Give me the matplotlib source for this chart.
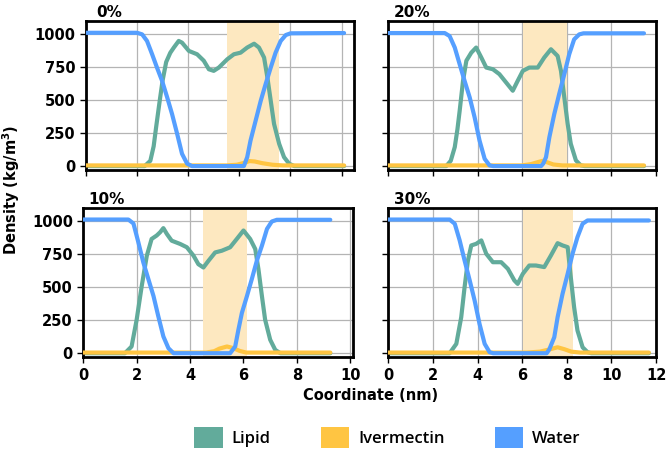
import matplotlib.pyplot as plt
from matplotlib.patches import Patch

# ---- data (x in nm, density in kg/m^3) ----
labels = ["0%", "20%", "10%", "30%"]
shade_0 = (5.5, 7.55)
shade_20 = (6.03, 8.0)
shade_10 = (4.5, 6.15)
shade_30 = (6.03, 8.3)

water0_x = [0, 2.0, 2.2, 2.39, 2.59, 2.78, 2.98, 3.18, 3.37, 3.57, 3.76, 3.96, 4.15,
            6.18, 6.31, 6.44, 6.64, 6.84, 7.03, 7.23, 7.42, 7.62, 7.82, 8.01, 10.1]
water0_y = [1012, 1012, 1000, 950, 849, 748, 647, 521, 395, 244, 93, 18, 0,
            0, 68, 194, 345, 496, 622, 748, 861, 950, 995, 1008, 1010]
lipid0_x = [0, 2.3, 2.52, 2.65, 2.75, 2.89, 3.0, 3.14, 3.3, 3.44, 3.63, 3.76, 4.03, 4.35,
            4.61, 4.81, 5.0, 5.2, 5.53, 5.79, 6.05, 6.31, 6.58, 6.77, 6.97, 7.1, 7.23,
            7.36, 7.56, 7.75, 7.95, 8.15, 10.1]
lipid0_y = [0, 0, 40, 150, 300, 500, 650, 790, 860, 900, 950, 937, 874, 849,
            800, 735, 723, 748, 811, 849, 861, 900, 929, 900, 824, 672, 496,
            320, 169, 68, 18, 0, 0]
iver0_x = [0, 5.5, 5.9, 6.2, 6.4, 6.6, 6.9, 7.3, 7.7, 10.1]
iver0_y = [5, 5, 10, 25, 38, 35, 22, 10, 5, 5]

water20_x = [0, 2.53, 2.75, 2.98, 3.2, 3.42, 3.65, 3.87, 4.09, 4.32, 4.54, 4.7,
             6.85, 6.95, 7.07, 7.22, 7.44, 7.66, 7.89, 8.11, 8.33, 8.56, 8.75, 11.46]
water20_y = [1010, 1010, 987, 900, 773, 647, 521, 370, 194, 55, 5, 0,
             0, 20, 68, 219, 395, 547, 698, 849, 962, 1000, 1008, 1008]
lipid20_x = [0, 2.6, 2.8, 2.98, 3.1, 3.2, 3.35, 3.5, 3.72, 3.94, 4.17, 4.39, 4.69,
             4.98, 5.28, 5.58, 5.8, 6.03, 6.32, 6.7, 6.99, 7.29, 7.59, 7.74, 7.89,
             8.04, 8.18, 8.41, 8.63, 8.8, 11.46]
lipid20_y = [0, 0, 40, 144, 280, 420, 647, 800, 861, 900, 824, 748, 735,
             698, 635, 572, 647, 723, 748, 748, 824, 887, 836, 723, 521,
             320, 169, 43, 5, 0, 0]
iver20_x = [0, 6.0, 6.4, 6.7, 6.92, 7.1, 7.4, 7.8, 11.46]
iver20_y = [5, 5, 15, 30, 40, 30, 12, 5, 5]

water10_x = [0, 1.69, 1.88, 2.06, 2.25, 2.44, 2.63, 2.81, 3.0, 3.19, 3.38,
             5.5, 5.69, 5.81, 5.94, 6.13, 6.31, 6.5, 6.69, 6.88, 7.06, 7.25, 9.25]
water10_y = [1012, 1012, 982, 842, 687, 560, 433, 280, 127, 38, 0,
             0, 51, 178, 305, 433, 560, 700, 814, 941, 997, 1010, 1010]
lipid10_x = [0, 1.56, 1.81, 2.0, 2.19, 2.38, 2.56, 2.75, 2.88, 3.0, 3.13, 3.31, 3.63,
             3.88, 4.13, 4.31, 4.5, 4.69, 4.94, 5.19, 5.5, 5.75, 6.0, 6.25, 6.44,
             6.56, 6.69, 6.81, 7.0, 7.19, 7.38, 9.25]
lipid10_y = [0, 0, 51, 254, 509, 738, 865, 891, 916, 947, 903, 852, 827,
             802, 738, 674, 649, 700, 763, 776, 802, 865, 929, 865, 789,
             636, 433, 254, 102, 25, 0, 0]
iver10_x = [0, 4.6, 4.9, 5.1, 5.38, 5.6, 5.85, 6.1, 9.25]
iver10_y = [5, 5, 15, 35, 51, 40, 18, 5, 5]

water30_x = [0, 2.75, 2.98, 3.2, 3.42, 3.65, 3.87, 4.09, 4.32, 4.54, 4.7,
             7.1, 7.22, 7.44, 7.59, 7.81, 8.04, 8.26, 8.48, 8.71, 8.93, 11.68]
water30_y = [1012, 1012, 980, 854, 702, 551, 399, 222, 71, 8, 0,
             0, 30, 121, 273, 449, 601, 753, 879, 980, 1005, 1005]
lipid30_x = [0, 2.75, 3.05, 3.27, 3.42, 3.57, 3.72, 3.94, 4.17, 4.39, 4.69, 5.06,
             5.36, 5.65, 5.8, 6.03, 6.32, 6.62, 6.99, 7.29, 7.59, 7.81, 8.04, 8.18,
             8.33, 8.48, 8.71, 8.93, 9.1, 11.68]
lipid30_y = [0, 0, 71, 273, 500, 702, 816, 828, 854, 753, 689, 689,
             639, 551, 525, 601, 664, 664, 652, 740, 833, 816, 803, 576,
             348, 172, 45, 8, 0, 0]
iver30_x = [0, 6.2, 6.8, 7.2, 7.59, 7.9, 8.2, 8.6, 11.68]
iver30_y = [5, 5, 12, 28, 45, 30, 12, 5, 5]

# colours
c_lipid = "#62ab9b"
c_iver = "#ffc542"
c_water = "#559fff"
c_shade = "#fde8c0"

panels = [
    (lipid0_x, lipid0_y, iver0_x, iver0_y, water0_x, water0_y, shade_0),
    (lipid20_x, lipid20_y, iver20_x, iver20_y, water20_x, water20_y, shade_20),
    (lipid10_x, lipid10_y, iver10_x, iver10_y, water10_x, water10_y, shade_10),
    (lipid30_x, lipid30_y, iver30_x, iver30_y, water30_x, water30_y, shade_30),
]

# axes rectangles in figure fraction, x-limits, title offset
rects = [
    [0.129, 0.623, 0.403, 0.330],
    [0.583, 0.623, 0.402, 0.330],
    [0.125, 0.208, 0.405, 0.331],
    [0.583, 0.208, 0.402, 0.331],
]
xlims = [(0, 10.5), (0, 12), (0, 10.1), (0, 12)]
title_dx = [0.04, 0.02, 0.02, 0.02]

fig = plt.figure(figsize=(6.66, 4.51), dpi=100)

for i, (lx, ly, ix, iy, wx, wy, sh) in enumerate(panels):
    ax = fig.add_axes(rects[i])
    ax.axvspan(sh[0], sh[1], color=c_shade, zorder=0.8, lw=0)
    ax.plot(lx, ly, color=c_lipid, lw=3, zorder=2, solid_capstyle="round")
    ax.plot(ix, iy, color=c_iver, lw=3, zorder=3, solid_capstyle="round")
    ax.plot(wx, wy, color=c_water, lw=3, zorder=4, solid_capstyle="round")
    ax.set_xlim(*xlims[i])
    ax.set_ylim(-30, 1100)
    ax.set_xticks(range(0, int(xlims[i][1]) + 1, 2))
    ax.set_yticks([0, 250, 500, 750, 1000])
    ax.grid(True, color="#b4b4b4", lw=0.9)
    ax.set_axisbelow(True)
    for s in ax.spines.values():
        s.set_linewidth(2)
    ax.tick_params(labelsize=10.5, width=1, length=4)
    for t in ax.get_xticklabels() + ax.get_yticklabels():
        t.set_fontweight("bold")
    if i in (0, 1):
        ax.set_xticklabels([])
    if i in (1, 3):
        ax.set_yticklabels([])
    ax.set_title(labels[i], loc="left", x=title_dx[i], fontsize=11,
                 fontweight="bold", pad=3)

fig.text(0.556, 0.124, "Coordinate (nm)", ha="center", va="center",
         fontsize=10.5, fontweight="bold")
fig.text(0.016, 0.58, "Density (kg/m$^{\\mathbf{3}}$)", ha="center", va="center",
         rotation=90, fontsize=10.5, fontweight="bold")

handles = [Patch(facecolor=c_lipid), Patch(facecolor=c_iver), Patch(facecolor=c_water)]
fig.legend(handles, ["Lipid", "Ivermectin", "Water"], loc="center",
           bbox_to_anchor=(0.582, 0.03), ncol=3, frameon=False,
           prop={"family": "Open Sans", "weight": "semibold", "size": 12},
           handlelength=1.7, handleheight=1.6, handletextpad=0.55,
           columnspacing=3.0)

plt.savefig("out.png", dpi=100)
plt.close()
